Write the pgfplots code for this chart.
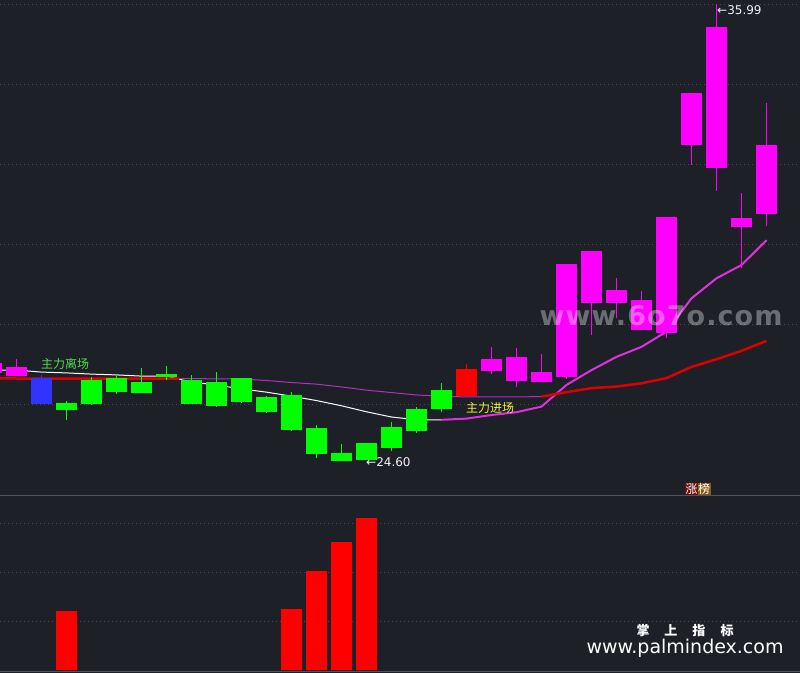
\documentclass[border=0pt]{standalone}
\usepackage{fontspec}
\setmainfont{DejaVu Sans}
\newfontfamily\cjk{Noto Sans CJK SC}
\newfontfamily\wmfont[LetterSpace=4]{DejaVu Sans Bold}
\usepackage{pgfplots}
\usepackage{pgfplotstable}
\pgfplotsset{compat=1.18}

\definecolor{bgc}{HTML}{1E2027}
\definecolor{gridc}{HTML}{4A4C55}
\definecolor{sepc}{HTML}{50535C}
\definecolor{upc}{HTML}{FF00FF}
\definecolor{dnc}{HTML}{00FF00}
\definecolor{bluec}{HTML}{3333FF}
\definecolor{redc}{HTML}{FF0000}
\definecolor{maline}{HTML}{E030E0}
\definecolor{purpline}{HTML}{B030C0}
\definecolor{redline}{HTML}{DD0000}
\definecolor{txtgreen}{HTML}{50DC50}
\definecolor{txtyellow}{HTML}{F0F040}
\definecolor{zhangc}{HTML}{6E1010}
\definecolor{bangc}{HTML}{8A5A12}

% candles: index, high, low, body top, body bottom
\pgfplotstableread{
x hi lo top bot
-1 27.05 26.80 27.05 26.80
0 27.15 26.72 26.95 26.72
19 27.45 26.77 27.15 26.85
20 27.42 26.45 27.20 26.60
21 27.27 26.57 26.82 26.57
22 29.52 26.65 29.52 26.70
23 29.84 27.75 29.84 28.54
24 29.17 28.17 28.87 28.54
25 28.84 27.87 28.62 27.87
26 30.69 27.67 30.69 27.80
27 33.78 31.99 33.78 32.48
28 35.99 31.34 35.43 31.91
29 31.29 29.42 30.66 30.44
30 33.53 30.46 32.48 30.76
}\pinkc

\pgfplotstableread{
x hi lo top bot
2 26.10 25.63 26.05 25.88
3 26.70 26.00 26.62 26.03
4 26.77 26.27 26.67 26.32
5 26.92 26.30 26.57 26.30
6 26.97 26.62 26.77 26.70
7 26.75 26.02 26.62 26.03
8 26.82 25.95 26.57 25.98
9 26.67 26.06 26.67 26.08
10 26.22 25.80 26.20 25.83
11 26.32 25.35 26.25 25.38
12 25.50 24.68 25.43 24.78
13 25.03 24.60 24.80 24.60
14 25.05 24.63 25.05 24.63
15 25.58 24.85 25.45 24.93
16 25.95 25.30 25.90 25.35
17 26.55 25.83 26.37 25.90
}\greenc

\pgfplotstableread{
x hi lo top bot
1 26.75 26.03 26.67 26.03
}\bluec

\pgfplotstableread{
x hi lo top bot
18 27.02 26.22 26.90 26.22
}\redc

\pgfplotsset{
  wick/.style={draw=none, mark=none, forget plot,
    error bars/.cd, y dir=both, y explicit, error mark=none,
    error bar style={line width=1bp, draw=#1, solid}},
  body/.style={draw=none, mark=none, forget plot,
    error bars/.cd, y dir=both, y explicit, error mark=none,
    error bar style={line width=21bp, draw=#1, solid, line cap=butt}},
}
\newcommand\candles[2]{%
  \addplot[wick=#2] table[x=x, y expr={(\thisrow{hi}+\thisrow{lo})/2},
    y error expr={(\thisrow{hi}-\thisrow{lo})/2}] {#1};
  \addplot[body=#2] table[x=x, y expr={(\thisrow{top}+\thisrow{bot})/2},
    y error expr={(\thisrow{top}-\thisrow{bot})/2}] {#1};
}

\begin{document}
\begin{tikzpicture}
\fill[bgc] (0,0) rectangle (800bp,673bp);

\begin{axis}[
  at={(0,177bp)}, anchor=south west,
  width=800bp, height=496bp, scale only axis,
  xmin=-0.66, xmax=31.34, ymin=23.73, ymax=36.10,
  axis line style={draw=none},
  xtick=\empty, ytick={26,28,...,36}, yticklabels={},
  major tick length=0,
  ymajorgrids, grid style={gridc, line width=1bp, dash pattern=on 1bp off 3bp},
]
% moving averages
\addplot[white, line width=1bp] coordinates {
  (-1,26.87) (0,26.87) (1,26.82) (2,26.80) (3,26.77) (4,26.75) (5,26.72)
  (6,26.72) (7,26.57) (8,26.50) (9,26.40) (10,26.32) (11,26.22) (12,26.11)
  (13,25.98) (14,25.83) (15,25.70) (16,25.63) (17,25.63)};
\addplot[maline, line width=2bp] coordinates {
  (17,25.63) (18,25.66) (19,25.75) (20,25.82) (21,25.96) (22,26.50)
  (23,26.87) (24,27.20) (25,27.45) (26,27.83) (27,28.66) (28,29.16)
  (29,29.49) (30,30.11)};
\addplot[purpline, line width=1bp] coordinates {
  (6,26.66) (7,26.66) (8,26.65) (9,26.65) (10,26.61) (11,26.56) (12,26.52)
  (13,26.45) (14,26.37) (15,26.31) (16,26.25) (17,26.22) (18,26.20)
  (19,26.20) (20,26.20) (21,26.21)};
\addplot[redline, line width=2.5bp] coordinates {
  (-1,26.67) (0,26.66) (6.5,26.66)};
\addplot[redline, line width=2.5bp] coordinates {
  (21,26.21) (22,26.32) (23,26.42) (24,26.46) (25,26.54) (26,26.67)
  (27,26.95) (28,27.14) (29,27.35) (30,27.60)};

\candles{\pinkc}{upc}
\candles{\greenc}{dnc}
\candles{\bluec}{bluec}
\candles{\redc}{redc}

\node[text=txtgreen, font=\cjk\fontsize{12bp}{14bp}\selectfont] at (axis cs:1.94,27.02) {主力离场};
\node[text=txtyellow, font=\cjk\fontsize{12bp}{14bp}\selectfont] at (axis cs:18.94,25.93) {主力进场};
\node[anchor=west, inner sep=0, text=white!90!gray, font=\fontsize{12bp}{14bp}\selectfont] at (axis cs:13.98,24.57) {←24.60};
\node[anchor=west, inner sep=0, text=white!90!gray, font=\fontsize{12bp}{14bp}\selectfont] at (axis cs:28.02,35.85) {←35.99};
\node[fill=zhangc, text=white, inner sep=0.5bp, font=\cjk\fontsize{12bp}{13bp}\selectfont] at (axis cs:27.0,23.91) {涨};
\node[fill=bangc, text=white, inner sep=0.5bp, font=\cjk\fontsize{12bp}{13bp}\selectfont] at (axis cs:27.5,23.91) {榜};
\node[text=white, text opacity=0.35, font=\wmfont\fontsize{27bp}{30bp}\selectfont] at (axis cs:25.78,28.22) {www.6o7o.com};
\end{axis}

\begin{axis}[
  at={(0,0)}, anchor=south west,
  width=800bp, height=177bp, scale only axis,
  xmin=-0.66, xmax=31.34, ymin=-0.061, ymax=3.551,
  axis line style={draw=none},
  xtick=\empty, ytick={1,2,3}, yticklabels={},
  major tick length=0,
  ymajorgrids, grid style={gridc, line width=1bp, dash pattern=on 1bp off 3bp},
]
\addplot[ybar, bar width=21bp, fill=redc, draw=none] coordinates {
  (2,1.20) (11,1.24) (12,2.02) (13,2.61) (14,3.10)};
\end{axis}

\draw[sepc, line width=1bp] (0,177bp) -- (800bp,177bp);
\draw[sepc, line width=1bp] (0,1.3bp) -- (800bp,1.3bp);
\node[text=white, font=\cjk\bfseries\fontsize{13bp}{15bp}\selectfont] at (685bp,42bp)
  {掌\hspace{15bp}上\hspace{15bp}指\hspace{15bp}标};
\node[text=white, font=\fontsize{19bp}{21bp}\selectfont] at (685bp,25bp) {www.palmindex.com};

\pgfresetboundingbox
\useasboundingbox (0,0) rectangle (800bp,673bp);
\end{tikzpicture}
\end{document}
